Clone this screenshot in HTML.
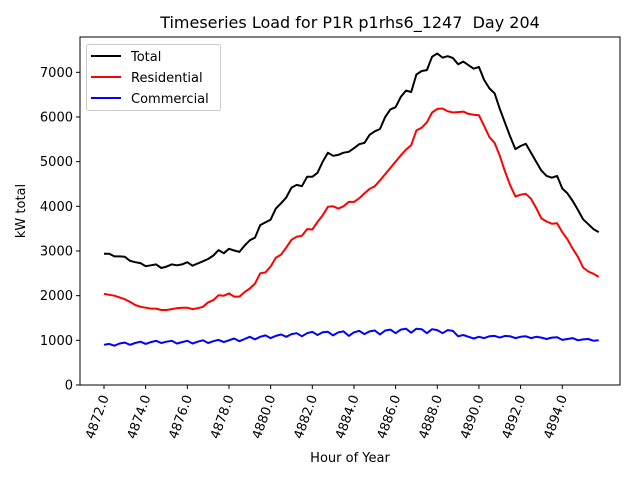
<!DOCTYPE html>
<html><head><meta charset="utf-8"><style>body{margin:0;background:#fff}svg{display:block}text{font-family:"DejaVu Sans","Liberation Sans",sans-serif}</style></head>
<body>
<svg id="chart" width="640" height="480">
<rect width="640" height="480" fill="#fff"/>
<text x="350" y="28" font-size="16" text-anchor="middle">Timeseries Load for P1R p1rhs6_1247&#160; Day 204</text>
<g id="plot"></g>
<text x="350" y="462" font-size="13" text-anchor="middle">Hour of Year</text>
<text transform="translate(25,211) rotate(-90)" font-size="13" text-anchor="middle">kW total</text>
<g>
<rect x="86.5" y="44.5" width="134" height="66" fill="#fff" stroke="#ccc" rx="2"/>
<line x1="91" y1="56" x2="121" y2="56" stroke="#000" stroke-width="2"/>
<text x="131" y="61" font-size="13">Total</text>
<line x1="91" y1="77" x2="121" y2="77" stroke="#f00" stroke-width="2"/>
<text x="131" y="82" font-size="13">Residential</text>
<line x1="91" y1="98" x2="121" y2="98" stroke="#00f" stroke-width="2"/>
<text x="131" y="103" font-size="13">Commercial</text>
</g>
</svg>
<script>
const startHour = 4872;
const stepHours = 0.25;
const xTicks = [4872,4874,4876,4878,4880,4882,4884,4886,4888,4890,4892,4894];
const yTicks = [0,1000,2000,3000,4000,5000,6000,7000];
const total = [2940,2940,2880,2880,2870,2780,2750,2730,2660,2680,2700,2620,2650,2700,2680,2700,2750,2670,2720,2770,2820,2900,3020,2950,3050,3010,2980,3120,3240,3300,3580,3640,3700,3950,4070,4200,4420,4480,4450,4660,4660,4750,5000,5200,5130,5150,5200,5220,5300,5390,5420,5600,5680,5730,6000,6170,6220,6450,6590,6560,6950,7030,7050,7350,7420,7330,7360,7320,7180,7240,7160,7080,7120,6830,6640,6530,6180,5870,5560,5280,5350,5400,5200,5000,4800,4680,4640,4680,4400,4290,4120,3920,3710,3600,3490,3420];
const residential = [2040,2020,2000,1960,1920,1860,1790,1750,1730,1710,1710,1680,1680,1700,1720,1730,1730,1700,1720,1750,1850,1900,2010,2000,2050,1980,1980,2080,2160,2270,2500,2520,2650,2850,2920,3080,3250,3320,3340,3490,3480,3650,3800,3990,4000,3950,4000,4100,4100,4180,4290,4390,4450,4580,4720,4860,5000,5140,5270,5370,5700,5760,5880,6100,6180,6190,6130,6100,6110,6120,6070,6050,6040,5800,5550,5420,5130,4780,4470,4220,4260,4280,4170,3960,3730,3660,3610,3620,3420,3260,3050,2870,2630,2540,2490,2420];
const commercial = [900,920,880,930,950,900,940,970,920,960,990,940,970,990,930,960,990,930,970,1000,940,980,1010,960,1000,1040,980,1030,1080,1020,1080,1110,1050,1100,1130,1080,1140,1160,1090,1160,1190,1120,1180,1190,1110,1180,1200,1100,1180,1210,1140,1200,1220,1130,1220,1240,1160,1240,1260,1170,1260,1250,1160,1250,1230,1160,1230,1210,1090,1120,1080,1040,1080,1050,1090,1100,1060,1100,1090,1050,1080,1090,1050,1080,1060,1030,1060,1070,1010,1030,1050,1000,1020,1030,990,1000];

const L=80,R=620,T=37,B=385;
const xScale = h => 104 + (h - 4872) * 20.83;
const yScale = v => B - v * 0.04467;
const NS='http://www.w3.org/2000/svg';
const plot=document.getElementById('plot');
function mk(tag, attrs){const e=document.createElementNS(NS,tag);for(const k in attrs)e.setAttribute(k,attrs[k]);plot.appendChild(e);return e;}

function series(vals,color,name){
  const pts=vals.map((v,i)=>xScale(startHour+i*stepHours).toFixed(1)+','+yScale(v).toFixed(1)).join(' ');
  const p=mk('polyline',{points:pts,fill:'none',stroke:color,'stroke-width':2,'stroke-linejoin':'round'});
  
  
}
series(total,'#000','series-total');
series(residential,'#f00','series-residential');
series(commercial,'#00f','series-commercial');

const frame=mk('rect',{x:L,y:T,width:R-L,height:B-T,fill:'none',stroke:'#000','stroke-width':1});



yTicks.forEach(v=>{
  const y=yScale(v);
  mk('line',{x1:L-4,y1:y,x2:L,y2:y,stroke:'#000'});
  const t=mk('text',{x:L-7,y:y+4.5,'font-size':13,'text-anchor':'end'});
  t.textContent=v;
  
  
});
xTicks.forEach(h=>{
  const x=xScale(h);
  mk('line',{x1:x,y1:B,x2:x,y2:B+4,stroke:'#000'});
  const t=mk('text',{transform:`translate(${x+5},${B+12}) rotate(-70)`,'font-size':13,'text-anchor':'end'});
  t.textContent=h.toFixed(1);
  
  
});
</script>
</body></html>
